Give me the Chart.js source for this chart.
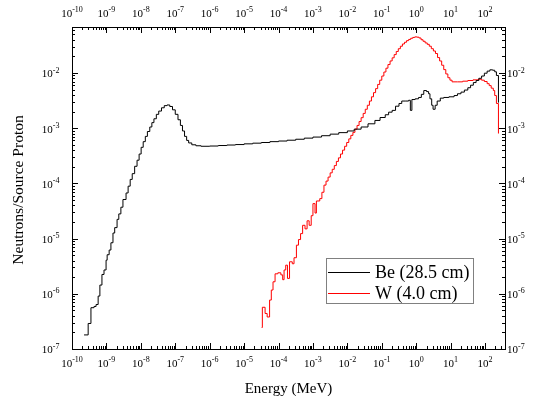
<!DOCTYPE html>
<html>
<head>
<meta charset="utf-8">
<script src="https://cdn.jsdelivr.net/npm/chart.js@4.4.1/dist/chart.umd.min.js"></script>
<style>
body{margin:0;background:#fff;}
canvas{display:block;}
</style>
</head>
<body>
<canvas id="spectrum" width="538" height="396"></canvas>
<script>
//Axis limits and the decades that get a 10^n label
const X_MIN = 1e-10, X_MAX = 380;
const Y_MIN = 1e-7, Y_MAX = 0.068;
const xDecades = [-10, -9, -8, -7, -6, -5, -4, -3, -2, -1, 0, 1, 2];
const yDecades = [-7, -6, -5, -4, -3, -2];

//Be spectrum, lower bin edges (MeV) and neutrons/source proton
const beEnergy = [
    2.24e-10, 2.95e-10, 3.55e-10, 4.37e-10, 5.01e-10, 5.75e-10, 6.46e-10, 7.41e-10, 8.51e-10, 9.77e-10,
    1.05e-9, 1.20e-9, 1.35e-9, 1.55e-9, 1.74e-9, 2.04e-9, 2.29e-9, 2.63e-9, 3.02e-9, 3.72e-9, 4.27e-9, 4.90e-9, 5.62e-9, 6.61e-9, 7.76e-9, 8.91e-9,
    1.02e-8, 1.17e-8, 1.35e-8, 1.55e-8, 1.82e-8, 2.09e-8, 2.40e-8, 2.82e-8, 3.31e-8, 3.98e-8, 4.79e-8, 5.75e-8, 6.92e-8, 8.32e-8,
    1.00e-7, 1.20e-7, 1.41e-7, 1.62e-7, 1.86e-7, 2.14e-7, 2.45e-7, 3.02e-7, 3.98e-7, 5.62e-7,
    1e-6, 1.78e-6, 3.16e-6, 5.62e-6,
    1e-5, 1.78e-5, 3.16e-5, 5.62e-5,
    1e-4, 1.78e-4, 3.16e-4, 5.62e-4,
    1e-3, 1.78e-3, 3.16e-3, 5.62e-3,
    1e-2, 1.58e-2, 2.51e-2, 3.98e-2, 6.31e-2, 8.91e-2,
    0.126, 0.158, 0.200, 0.251, 0.316, 0.380, 0.501, 0.603, 0.676, 0.750, 0.933,
    1.17, 1.41, 1.66, 2.00, 2.29, 2.51, 2.82, 3.09, 3.55, 4.07, 5.01, 6.31, 8.91,
    12.6, 15.8, 20.0, 25.1, 31.6, 38.0, 45.7, 55.0, 66.1, 79.4, 95.5,
    115, 138, 166, 191, 214, 245
];
const beFlux = [
    1.8e-7, 2.9e-7, 5.6e-7, 5.9e-7, 6.4e-7, 9.1e-7, 1.44e-6, 2.24e-6, 2.7e-6, 4.06e-6,
    5.1e-6, 6.2e-6, 8.4e-6, 1.26e-5, 1.58e-5, 2.23e-5, 2.8e-5, 3.7e-5, 5.1e-5, 6.7e-5, 8.9e-5, 1.18e-4, 1.5e-4, 2.04e-4, 2.63e-4, 3.4e-4,
    4.5e-4, 5.7e-4, 7.1e-4, 8.7e-4, 1.05e-3, 1.26e-3, 1.48e-3, 1.78e-3, 2.04e-3, 2.34e-3, 2.56e-3, 2.63e-3, 2.47e-3, 2.15e-3,
    1.78e-3, 1.42e-3, 1.12e-3, 8.9e-4, 7.1e-4, 6.0e-4, 5.4e-4, 5.0e-4, 4.8e-4, 4.7e-4,
    4.75e-4, 4.85e-4, 4.95e-4, 5.05e-4,
    5.2e-4, 5.35e-4, 5.5e-4, 5.7e-4,
    5.85e-4, 6.05e-4, 6.3e-4, 6.6e-4,
    6.9e-4, 7.3e-4, 7.8e-4, 8.3e-4,
    8.9e-4, 9.6e-4, 1.05e-3, 1.2e-3, 1.38e-3, 1.56e-3,
    1.75e-3, 1.95e-3, 2.1e-3, 2.5e-3, 2.8e-3, 3.1e-3, 3.1e-3, 3.2e-3, 2.1e-3, 3.3e-3, 3.4e-3,
    3.6e-3, 4.1e-3, 4.8e-3, 4.6e-3, 4.2e-3, 3.4e-3, 2.6e-3, 2.2e-3, 2.6e-3, 3.1e-3, 3.5e-3, 3.6e-3, 3.7e-3,
    3.9e-3, 4.2e-3, 4.5e-3, 4.9e-3, 5.4e-3, 6.0e-3, 6.7e-3, 7.3e-3, 8.0e-3, 8.8e-3, 9.9e-3,
    1.08e-2, 1.14e-2, 1.12e-2, 1.05e-2, 9.0e-3, 2.9e-3
];

//W spectrum
const wEnergy = [
    3.24e-5, 3.39e-5, 4.07e-5, 4.68e-5, 5.50e-5, 6.17e-5, 6.92e-5, 7.94e-5, 9.55e-5,
    1.17e-4, 1.32e-4, 1.45e-4, 1.62e-4, 1.82e-4, 2.09e-4, 2.51e-4, 2.82e-4, 3.31e-4, 3.80e-4, 4.37e-4, 5.01e-4, 5.89e-4, 6.76e-4, 7.76e-4, 8.91e-4,
    1.00e-3, 1.15e-3, 1.26e-3, 1.58e-3, 1.82e-3, 2.09e-3, 2.40e-3, 2.75e-3, 3.16e-3, 3.63e-3, 4.17e-3, 4.79e-3, 5.50e-3, 6.31e-3, 7.24e-3, 8.32e-3, 9.55e-3,
    1.10e-2, 1.26e-2, 1.45e-2, 1.66e-2, 1.91e-2, 2.19e-2, 2.51e-2, 2.88e-2, 3.31e-2, 3.80e-2, 4.37e-2, 5.01e-2, 5.75e-2, 6.61e-2, 7.59e-2, 8.71e-2,
    0.100, 0.115, 0.132, 0.151, 0.174, 0.200, 0.229, 0.263, 0.302, 0.347, 0.398, 0.457, 0.525, 0.603, 0.692, 0.794, 0.912,
    1.05, 1.20, 1.38, 1.58, 1.82, 2.09, 2.40, 2.75, 3.16, 3.63, 4.17, 4.79, 5.50, 6.31, 7.24, 8.32, 9.55,
    11.0, 15.8, 22.4, 31.6, 44.7, 63.1, 79.4, 95.5,
    115, 132, 151, 174, 191, 214, 245
];
const wFlux = [
    2.45e-7, 5.7e-7, 4.4e-7, 3.8e-7, 7.7e-7, 1.17e-6, 1.65e-6, 2.3e-6, 2.4e-6,
    2.2e-6, 1.8e-6, 2.7e-6, 3.3e-6, 1.9e-6, 3.8e-6, 3.5e-6, 4.5e-6, 7.6e-6, 9.6e-6, 1.23e-5, 1.74e-5, 1.5e-5, 2.1e-5, 1.74e-5, 2.6e-5,
    4.3e-5, 2.9e-5, 4.8e-5, 5.3e-5, 6.9e-5, 9.3e-5, 1.1e-4, 1.3e-4, 1.55e-4, 1.8e-4, 2.1e-4, 2.5e-4, 2.9e-4, 3.4e-4, 4.0e-4, 4.7e-4, 5.5e-4,
    6.4e-4, 7.4e-4, 8.4e-4, 9.6e-4, 1.12e-3, 1.32e-3, 1.55e-3, 1.85e-3, 2.2e-3, 2.6e-3, 3.1e-3, 3.7e-3, 4.4e-3, 5.2e-3, 6.2e-3, 7.4e-3,
    8.8e-3, 1.04e-2, 1.22e-2, 1.42e-2, 1.65e-2, 1.88e-2, 2.15e-2, 2.45e-2, 2.75e-2, 3.05e-2, 3.35e-2, 3.6e-2, 3.85e-2, 4.05e-2, 4.25e-2, 4.4e-2, 4.5e-2,
    4.45e-2, 4.3e-2, 4.0e-2, 3.75e-2, 3.5e-2, 3.3e-2, 3.05e-2, 2.75e-2, 2.5e-2, 2.25e-2, 1.9e-2, 1.65e-2, 1.38e-2, 1.15e-2, 9.6e-3, 8.2e-3, 7.4e-3,
    6.9e-3, 6.9e-3, 7.1e-3, 7.3e-3, 7.5e-3, 7.7e-3, 7.4e-3, 7.0e-3,
    6.4e-3, 5.9e-3, 5.3e-3, 4.8e-3, 3.9e-3, 2.8e-3, 8.0e-4
];

const SERIES_LABELS = ["Be (28.5 cm)", "W (4.0 cm)"];
const SERIES_COLORS = ["#000000", "#ff0000"];
const SERIF = "'Liberation Serif', 'Times New Roman', serif";
const BASE_FONT = "11px " + SERIF;
const SUP_FONT = "8px " + SERIF;

function toPoints(xs, ys) {
    return xs.map((x, i) => ({x: x, y: ys[i]}));
}

//minor ticks at 2..9 of every decade that is inside the range
function minorTicks(min, max) {
    let out = [];
    for (let d = Math.floor(Math.log10(min)); d <= Math.ceil(Math.log10(max)); d++) {
        for (let m = 2; m <= 9; m++) {
            const v = m * Math.pow(10, d);
            if (v > min && v < max) out.push(v);
        }
    }
    return out;
}

//draws "10" with a raised exponent, align is where x sits
function drawPow(ctx, e, x, y, align) {
    const sup = String(e);
    ctx.font = BASE_FONT;
    const wb = ctx.measureText("10").width;
    ctx.font = SUP_FONT;
    const ws = ctx.measureText(sup).width;
    let x0 = x;
    if (align === "center") x0 = x - (wb + ws) / 2;
    else if (align === "right") x0 = x - wb - ws;
    ctx.textAlign = "left";
    ctx.textBaseline = "middle";
    ctx.font = BASE_FONT;
    ctx.fillText("10", x0, y);
    ctx.font = SUP_FONT;
    ctx.fillText(sup, x0 + wb, y - 4);
}

const framePlugin = {
    id: "frame",
    afterDraw(chart) {
        const ctx = chart.ctx, a = chart.chartArea;
        const xs = chart.scales.x, ys = chart.scales.y;
        ctx.save();
        ctx.strokeStyle = "#000";
        ctx.fillStyle = "#000";
        ctx.lineWidth = 1;
        ctx.strokeRect(a.left + 0.5, a.top + 0.5, a.right - a.left, a.bottom - a.top);

        //inward ticks on all four sides
        ctx.beginPath();
        const xMajor = xDecades.map(d => Math.pow(10, d));
        const yMajor = yDecades.map(d => Math.pow(10, d));
        [[xMajor, 6], [minorTicks(X_MIN, X_MAX), 3]].forEach(function (set) {
            set[0].forEach(function (v) {
                const px = Math.round(xs.getPixelForValue(v)) + 0.5;
                ctx.moveTo(px, a.bottom); ctx.lineTo(px, a.bottom - set[1]);
                ctx.moveTo(px, a.top); ctx.lineTo(px, a.top + set[1]);
            });
        });
        [[yMajor, 6], [minorTicks(Y_MIN, Y_MAX), 3]].forEach(function (set) {
            set[0].forEach(function (v) {
                const py = Math.round(ys.getPixelForValue(v)) + 0.5;
                ctx.moveTo(a.left, py); ctx.lineTo(a.left + set[1], py);
                ctx.moveTo(a.right, py); ctx.lineTo(a.right - set[1], py);
            });
        });
        ctx.stroke();

        //tick labels
        xDecades.forEach(function (d) {
            const px = xs.getPixelForValue(Math.pow(10, d));
            drawPow(ctx, d, px, a.bottom + 15, "center");
            drawPow(ctx, d, px, a.top - 13, "center");
        });
        yDecades.forEach(function (d) {
            const py = ys.getPixelForValue(Math.pow(10, d)) + 1.5;
            drawPow(ctx, d, a.left - 12.5, py, "right");
            drawPow(ctx, d, a.right + 2, py, "left");
        });

        //axis titles
        ctx.font = "15px " + SERIF;
        ctx.textAlign = "center";
        ctx.textBaseline = "alphabetic";
        ctx.fillText("Energy (MeV)", (a.left + a.right) / 2, 393);
        ctx.save();
        ctx.translate(23, (a.top + a.bottom) / 2 + 2);
        ctx.rotate(-Math.PI / 2);
        ctx.font = "15.5px " + SERIF;
        ctx.fillText("Neutrons/Source Proton", 0, 0);
        ctx.restore();

        //legend box
        ctx.fillStyle = "#fff";
        ctx.fillRect(326, 258, 147, 45);
        ctx.strokeStyle = "#808080";
        ctx.strokeRect(326.5, 258.5, 147, 45);
        ctx.font = "18px " + SERIF;
        ctx.textAlign = "left";
        ctx.textBaseline = "middle";
        SERIES_LABELS.forEach(function (lab, i) {
            const ly = 272.5 + i * 21;
            ctx.strokeStyle = SERIES_COLORS[i];
            ctx.beginPath();
            ctx.moveTo(328, ly); ctx.lineTo(370, ly);
            ctx.stroke();
            ctx.fillStyle = "#000";
            ctx.fillText(lab, 375, ly + 1);
        });
        ctx.restore();
    }
};

const spectrumChart = new Chart(document.getElementById("spectrum"), {
    type: "line",
    data: {
        datasets: [
            {label: SERIES_LABELS[0], data: toPoints(beEnergy, beFlux), borderColor: SERIES_COLORS[0], stepped: true, fill: false},
            {label: SERIES_LABELS[1], data: toPoints(wEnergy, wFlux), borderColor: SERIES_COLORS[1], stepped: true, fill: false}
        ]
    },
    options: {
        responsive: false,
        animation: false,
        layout: {padding: {left: 72, top: 27, right: 33, bottom: 47}},
        plugins: {legend: {display: false}, tooltip: {enabled: false}},
        elements: {point: {radius: 0}, line: {borderWidth: 1, tension: 0}},
        scales: {
            x: {type: "logarithmic", min: X_MIN, max: X_MAX, display: false},
            y: {type: "logarithmic", min: Y_MIN, max: Y_MAX, display: false}
        }
    },
    plugins: [framePlugin]
});
</script>
</body>
</html>
